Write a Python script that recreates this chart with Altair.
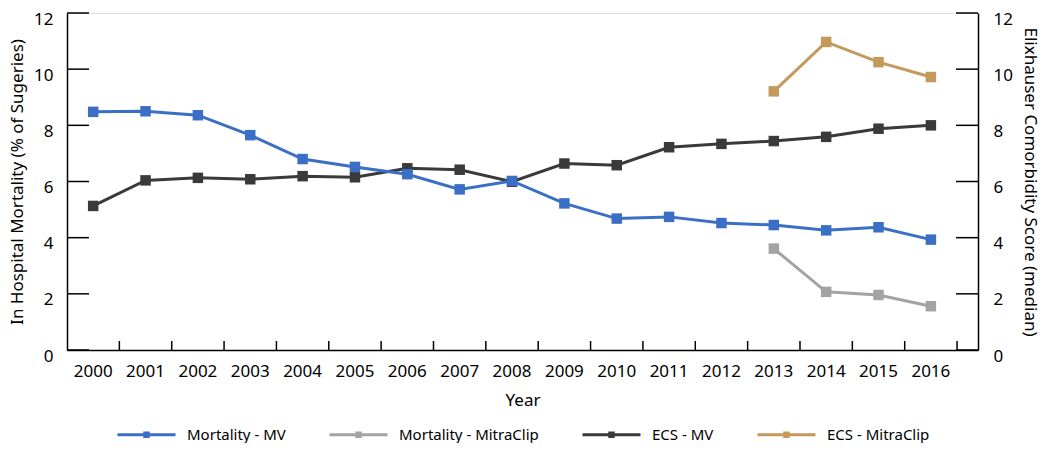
import altair as alt
import pandas as pd

years = [str(y) for y in range(2000, 2017)]
mort_mv = [8.48, 8.50, 8.36, 7.65, 6.80, 6.52, 6.26, 5.72, 6.02, 5.22, 4.68, 4.74, 4.52, 4.45, 4.26, 4.37, 3.93]
ecs_mv = [5.13, 6.04, 6.13, 6.08, 6.19, 6.15, 6.47, 6.42, 5.99, 6.64, 6.58, 7.22, 7.34, 7.44, 7.59, 7.88, 8.00]
clip_years = ["2013", "2014", "2015", "2016"]
mort_clip = [3.61, 2.07, 1.96, 1.56]
ecs_clip = [9.21, 10.97, 10.25, 9.72]

series_names = ["Mortality - MV", "Mortality - MitraClip", "ECS - MV", "ECS - MitraClip"]
series_colors = ["#3b6fc5", "#a3a3a3", "#3a3a3a", "#c49a5c"]
y_ticks = [0, 2, 4, 6, 8, 10, 12]

rows = []
for y, v in zip(years, mort_mv):
    rows.append({"year": y, "value": v, "series": series_names[0], "axis": "left"})
for y, v in zip(clip_years, mort_clip):
    rows.append({"year": y, "value": v, "series": series_names[1], "axis": "left"})
for y, v in zip(years, ecs_mv):
    rows.append({"year": y, "value": v, "series": series_names[2], "axis": "right"})
for y, v in zip(clip_years, ecs_clip):
    rows.append({"year": y, "value": v, "series": series_names[3], "axis": "right"})
df = pd.DataFrame(rows)

W, H = 911, 337
FONT = "Noto Sans"

xscale = alt.Scale(domain=years, paddingInner=0, paddingOuter=0.2, align=0)
xaxis = alt.Axis(title="Year", ticks=False, labelAngle=0, labelFontSize=17, labelPadding=13,
                 titleFontSize=17, titleFontWeight="normal", titlePadding=13,
                 domainColor="black", domainWidth=1.5, labelColor="black", titleColor="black")

yscale = alt.Scale(domain=[0, 12], nice=False)
left_axis = alt.Axis(orient="left", values=y_ticks, ticks=False, grid=False, labelFontSize=17,
                     labelPadding=14, labelBaseline="top", labelOffset=-2,
                     title="In Hospital Mortality (% of Sugeries)",
                     titleFontSize=17, titleFontWeight="normal", titlePadding=7,
                     domainColor="black", domainWidth=1.5, labelColor="black", titleColor="black")
right_axis = alt.Axis(orient="right", values=y_ticks, ticks=False, grid=False, labelFontSize=17,
                      labelPadding=15, labelBaseline="top", labelOffset=-2,
                      title="Elixhauser Comorbidity Score (median)",
                      titleFontSize=17, titleFontWeight="normal", titlePadding=8,
                      domainColor="black", domainWidth=1.5, labelColor="black", titleColor="black")

legend_symbol = "M-1,0L1,0M-0.06,-0.06L0.06,-0.06L0.06,0.06L-0.06,0.06Z"
color = alt.Color("series:N",
                  scale=alt.Scale(domain=series_names, range=series_colors),
                  sort=series_names,
                  legend=alt.Legend(title=None, orient="none", direction="horizontal",
                                    legendX=49, legendY=391, symbolType=legend_symbol,
                                    symbolSize=3364, symbolStrokeWidth=3, labelFontSize=15,
                                    labelOffset=10, columnPadding=37, labelColor="black",
                                    padding=0, labelFont=FONT))

base = alt.Chart(df)

def lines(side, axis):
    return base.transform_filter(alt.datum.axis == side).mark_line(
        strokeWidth=3,
        point=alt.OverlayMarkDef(shape="square", size=110, filled=True, opacity=1),
    ).encode(
        x=alt.X("year:N", scale=xscale, axis=xaxis, sort=years),
        y=alt.Y("value:Q", scale=yscale, axis=axis),
        color=color,
    )

tick_df = pd.DataFrame({"t": y_ticks})
left_ticks = alt.Chart(tick_df).mark_rule(color="black", strokeWidth=1.5).encode(
    y=alt.Y("t:Q", scale=yscale, axis=left_axis), x=alt.value(0), x2=alt.value(22))
right_ticks = alt.Chart(tick_df).mark_rule(color="black", strokeWidth=1.5).encode(
    y=alt.Y("t:Q", scale=yscale, axis=right_axis), x=alt.value(W - 22), x2=alt.value(W))

xt_df = pd.DataFrame({"year": years[1:]})
x_ticks_a = alt.Chart(xt_df).mark_rule(color="black", strokeWidth=1.5).encode(
    x=alt.X("year:N", scale=xscale, axis=xaxis, sort=years, bandPosition=0),
    y=alt.value(H - 9), y2=alt.value(H))
x_ticks_b = alt.Chart(pd.DataFrame({"year": [years[-1]]})).mark_rule(color="black", strokeWidth=1.5).encode(
    x=alt.X("year:N", scale=xscale, axis=xaxis, sort=years, bandPosition=1),
    y=alt.value(H - 9), y2=alt.value(H))

right_layer = alt.layer(lines("right", right_axis), right_ticks)
left_layer = alt.layer(x_ticks_a, x_ticks_b, left_ticks, lines("left", left_axis))

chart = alt.layer(right_layer, left_layer).resolve_scale(y="independent").properties(
    width=W, height=H, padding={"left": 0, "top": 2, "right": 0, "bottom": 0}
).configure_view(stroke=None).configure(font=FONT).configure_axis(labelFont=FONT, titleFont=FONT)

chart.save("out.html", embed_options={"renderer": "svg", "actions": False})
